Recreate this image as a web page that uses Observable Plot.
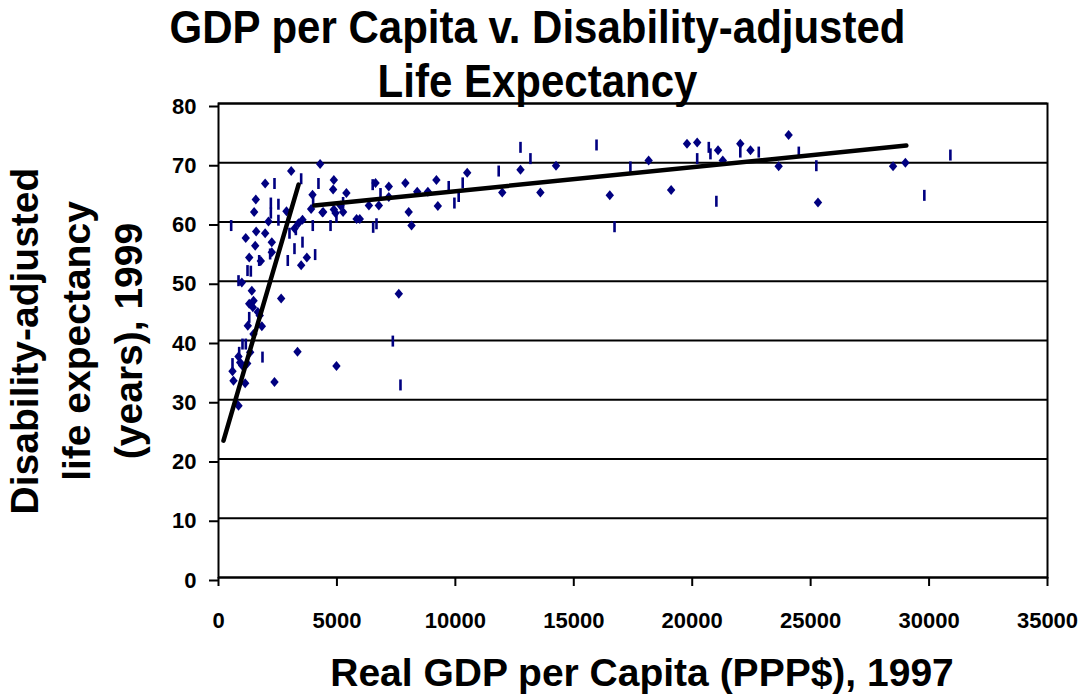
<!DOCTYPE html>
<html>
<head>
<meta charset="utf-8">
<script src="https://cdn.jsdelivr.net/npm/d3@7"></script>
<script src="https://cdn.jsdelivr.net/npm/@observablehq/plot@0.6"></script>
<style>
  html, body { margin: 0; padding: 0; background: white; }
  #wrap { position: relative; width: 1088px; height: 698px; overflow: hidden; font-family: "Liberation Sans", Arial, sans-serif; font-weight: bold; color: black; }
  .title { position: absolute; left: 0; top: 1px; width: 1075px; text-align: center; font-size: 42px; line-height: 50px; transform: scaleY(1.08); transform-origin: 0 0; }
  .xlabel { position: absolute; left: 0; top: 650px; width: 1284px; text-align: center; font-size: 39px; line-height: 45px; }
  .ylabel { position: absolute; width: 500px; left: -173px; top: 263px; text-align: center; font-size: 39px; line-height: 52px; transform: rotate(-90deg); transform-origin: 250px 78px; white-space: nowrap; }
</style>
</head>
<body>
<div id="wrap"></div>
<script>
// ---- data ----
const titleLines = ["GDP per Capita v. Disability-adjusted", "Life Expectancy"];
const xLabel = "Real GDP per Capita (PPP$), 1997";
const yLabelLines = ["Disability-adjusted", "life expectancy", "(years), 1999"];

const xTicks = [0, 5000, 10000, 15000, 20000, 25000, 30000, 35000];
const yTicks = [0, 10, 20, 30, 40, 50, 60, 70, 80];

// series A: diamond markers
const diamondGDP = [3070, 4290, 1970, 1575, 1505, 2110, 2870, 3970, 3910, 4390, 3377, 3546, 3210, 1590, 1970, 1150, 1550, 2250, 2250, 1297, 1787, 3730, 3490, 985, 1407, 2645, 1297, 1450, 1660, 1237, 1830, 1477, 3335, 1337, 845, 915, 591, 633, 1126, 2364, 845, 7612, 4980, 4870, 4840, 5400, 6630, 7190, 7890, 9200, 10500, 8390, 8840, 7190, 9260, 6350, 6770, 5150, 5260, 4870, 4420, 4940, 5830, 5965, 8030, 8150, 12750, 11980, 13590, 14250, 16520, 18160, 19110, 19780, 20210, 21090, 21290, 22030, 22460, 23650, 24070, 25310, 28480, 29000, 1480, 1740, 1000, 1210];
const diamondLE  = [68.6, 69.8, 66.5, 63.8, 61.7, 60.1, 61.8, 64.6, 62.2, 61.6, 59.8, 60.4, 58.9, 58.4, 58.1, 57.3, 56.0, 56.6, 54.9, 54.0, 53.4, 54.0, 52.7, 49.8, 48.4, 47.1, 46.2, 45.6, 44.8, 42.5, 42.4, 41.1, 38.1, 38.0, 37.3, 36.3, 34.8, 33.2, 32.8, 33.0, 29.0, 47.9, 35.7, 67.1, 65.5, 64.9, 66.6, 66.0, 66.6, 67.1, 68.3, 65.1, 65.1, 64.2, 62.7, 62.8, 62.8, 62.8, 61.7, 62.1, 61.7, 61.5, 60.5, 60.5, 61.7, 59.4, 68.8, 65.0, 65.0, 69.5, 64.5, 70.4, 65.4, 73.2, 73.4, 72.1, 70.4, 73.2, 72.1, 69.4, 74.7, 63.3, 69.4, 70.0, 46.7, 44.2, 35.8, 36.1];

// series B: vertical dash markers
const dashGDP = [535, 2364, 3490, 4220, 2210, 2530, 2210, 2530, 3265, 2997, 3980, 3546, 3208, 2925, 4080, 1365, 1225, 845, 2180, 1718, 1297, 1013, 1153, 1857, 873, 591, 773, 7360, 7683, 6510, 9720, 10310, 6840, 10140, 9960, 5260, 4980, 4730, 6530, 6670, 12750, 13170, 11830, 15960, 16720, 17390, 20210, 20700, 20770, 21020, 22030, 22810, 24500, 25240, 29800, 30900, 3995];
const dashLE  = [59.4, 66.5, 67.3, 66.5, 63.2, 63.0, 61.5, 60.3, 58.7, 58.1, 59.4, 56.6, 55.5, 53.5, 54.5, 51.7, 51.8, 50.1, 54.6, 53.5, 43.9, 39.4, 39.4, 37.2, 38.0, 36.1, 29.9, 39.9, 32.5, 66.3, 66.0, 66.6, 64.8, 64.3, 63.2, 63.3, 60.8, 59.4, 59.1, 59.7, 72.6, 70.7, 68.6, 73.0, 59.2, 69.3, 70.7, 72.6, 71.5, 63.5, 71.8, 71.8, 71.8, 69.5, 64.5, 71.3, 63.4];

// trend lines
const trendLowGDP = [211, 3380];
const trendLowLE  = [23.1, 66.3];
const trendHighGDP = [4050, 29040];
const trendHighLE  = [62.8, 72.9];

// ---- build tables ----
const diamonds = diamondGDP.map((x, i) => ({x, y: diamondLE[i]}));
const dashes = dashGDP.map((x, i) => ({x, y: dashLE[i]}));
const trendLow = trendLowGDP.map((x, i) => ({x, y: trendLowLE[i]}));
const trendHigh = trendHighGDP.map((x, i) => ({x, y: trendHighLE[i]}));

const diamondSymbol = {
  draw(ctx) {
    ctx.moveTo(0, -5); ctx.lineTo(4.2, 0); ctx.lineTo(0, 5); ctx.lineTo(-4.2, 0); ctx.closePath();
  }
};
const dashSymbol = {
  draw(ctx) {
    ctx.moveTo(-1.3, -5.5); ctx.lineTo(1.3, -5.5); ctx.lineTo(1.3, 5.5); ctx.lineTo(-1.3, 5.5); ctx.closePath();
  }
};

const navy = "#000080";

const chart = Plot.plot({
  width: 1088,
  height: 698,
  marginLeft: 218,
  marginRight: 41,
  marginTop: 103,
  marginBottom: 121,
  style: { fontFamily: "'Liberation Sans', Arial, sans-serif", fontWeight: "bold", fontSize: "22px", color: "black", background: "white" },
  x: { domain: [0, 35000] },
  y: { domain: [0, 80] },
  marks: [
    Plot.gridY(yTicks, { stroke: "black", strokeOpacity: 1, strokeWidth: 2 }),
    Plot.frame({ stroke: "black", strokeWidth: 2 }),
    Plot.axisX({ ticks: xTicks, tickSize: 9, tickPadding: 26, strokeWidth: 2, tickFormat: d => String(d), fontSize: 22, fontWeight: "bold", label: null }),
    Plot.axisY({ ticks: yTicks, tickSize: 9, tickPadding: 13, strokeWidth: 2, fontSize: 22, fontWeight: "bold", dy: 3, label: null }),
    Plot.dot(dashes, { x: "x", y: "y", symbol: dashSymbol, fill: navy, stroke: "none" }),
    Plot.dot(diamonds, { x: "x", y: "y", symbol: diamondSymbol, fill: navy, stroke: "none" }),
    Plot.line(trendLow, { x: "x", y: "y", stroke: "black", strokeWidth: 4.5 }),
    Plot.line(trendHigh, { x: "x", y: "y", stroke: "black", strokeWidth: 4.5 })
  ]
});

const wrap = document.getElementById("wrap");
wrap.appendChild(chart);

const t = document.createElement("div");
t.className = "title";
t.innerHTML = titleLines.join("<br>");
wrap.appendChild(t);

const xl = document.createElement("div");
xl.className = "xlabel";
xl.textContent = xLabel;
wrap.appendChild(xl);

const yl = document.createElement("div");
yl.className = "ylabel";
yl.innerHTML = yLabelLines.join("<br>");
wrap.appendChild(yl);

chart.style.position = "absolute";
chart.style.left = "0";
chart.style.top = "0";
</script>
</body>
</html>
